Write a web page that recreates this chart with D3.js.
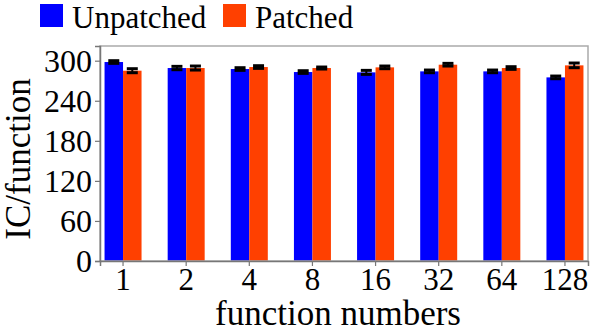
<!DOCTYPE html>
<html>
<head>
<meta charset="utf-8">
<script src="https://cdn.jsdelivr.net/npm/d3@7"></script>
<style>
  html, body { margin: 0; padding: 0; background: #fff; }
  svg { display: block; }
  svg text { font-family: 'Liberation Serif', 'Times New Roman', serif; }
</style>
</head>
<body>
<svg id="chart" width="590" height="332"></svg>
<script>
const categories = ['1', '2', '4', '8', '16', '32', '64', '128'];
const seriesNames = ['Unpatched', 'Patched'];
const unpatched = [298, 289, 287.5, 283, 282.5, 284, 284, 275];
const patched = [285, 289, 290.5, 289, 290, 294, 289, 293];
const unpatchedErr = [2, 2.5, 2, 2, 3, 2, 2, 2];
const patchedErr = [3, 3, 2, 1.5, 2, 2, 2, 3.5];
const yTicks = [0, 60, 120, 180, 240, 300];

const colors = { Unpatched: '#0000ff', Patched: '#ff4000' };
const serif = "'Liberation Serif', 'Times New Roman', serif";

const svg = d3.select('#chart');
const margin = { top: 46, right: 2, bottom: 71, left: 100 };
const width = 590 - margin.left - margin.right;
const height = 332 - margin.top - margin.bottom;

const x = d3.scaleBand().domain(categories).range([0, width]).paddingInner(0.414).paddingOuter(0.072);
const xs = d3.scaleBand().domain(seriesNames).range([0, x.bandwidth()]);
const y = d3.scaleLinear().domain([0, 322]).range([height, 0]);

const g = svg.append('g').attr('transform', `translate(${margin.left}, ${margin.top})`);

const rows = categories.map((c, i) => ({
  cat: c,
  values: [
    { name: 'Unpatched', value: unpatched[i], err: unpatchedErr[i] },
    { name: 'Patched', value: patched[i], err: patchedErr[i] },
  ],
}));

const group = g
  .selectAll('g.group')
  .data(rows)
  .join('g')
  .attr('class', 'group')
  .attr('transform', (d) => `translate(${x(d.cat)}, 0)`);

group
  .selectAll('rect')
  .data((d) => d.values)
  .join('rect')
  .attr('x', (d) => xs(d.name))
  .attr('width', xs.bandwidth())
  .attr('y', (d) => y(d.value))
  .attr('height', (d) => y(0) - y(d.value))
  .attr('fill', (d) => colors[d.name]);

// error bars
const capW = 11;
const err = group
  .selectAll('g.err')
  .data((d) => d.values)
  .join('g')
  .attr('class', 'err')
  .attr('transform', (d) => `translate(${xs(d.name) + xs.bandwidth() / 2}, 0)`)
  .attr('stroke', '#000')
  .attr('stroke-width', 3);

err
  .append('line')
  .attr('stroke-width', 2)
  .attr('y1', (d) => y(d.value - d.err))
  .attr('y2', (d) => y(d.value + d.err));
err
  .append('line')
  .attr('x1', -capW / 2)
  .attr('x2', capW / 2)
  .attr('y1', (d) => y(d.value + d.err))
  .attr('y2', (d) => y(d.value + d.err));
err
  .append('line')
  .attr('x1', -capW / 2)
  .attr('x2', capW / 2)
  .attr('y1', (d) => y(d.value - d.err))
  .attr('y2', (d) => y(d.value - d.err));

// frame
g.append('rect')
  .attr('width', width)
  .attr('height', height)
  .attr('fill', 'none')
  .attr('stroke', '#aaa')
  .attr('stroke-width', 1.5);

const yAxis = g.append('g').call(d3.axisLeft(y).tickValues(yTicks).tickSize(5).tickPadding(3));
yAxis.attr('font-family', serif);
yAxis.select('.domain').attr('stroke', '#777').attr('stroke-width', 1.5);
yAxis.selectAll('.tick line').attr('stroke', '#777').attr('stroke-width', 1.2);
yAxis
  .selectAll('.tick text')
  .style('font-family', serif)
  .attr('font-size', 32)
  .attr('fill', '#000')
  .attr('dy', '0.34em');

const xAxis = g
  .append('g')
  .attr('transform', `translate(0, ${height})`)
  .call(d3.axisBottom(x).tickSize(5).tickPadding(2));
xAxis.attr('font-family', serif);
xAxis.select('.domain').attr('stroke', '#777').attr('stroke-width', 1.5);
xAxis.selectAll('.tick line').attr('stroke', '#777').attr('stroke-width', 1.2);
xAxis
  .selectAll('.tick text')
  .style('font-family', serif)
  .attr('font-size', 31)
  .attr('fill', '#000')
  .attr('dy', '0.72em');

// axis titles
svg
  .append('text')
  .style('font-family', serif)
  .attr('text-anchor', 'middle')
  .attr('font-size', 35)
  .attr('transform', `translate(338, 325)`)
  .text('function numbers');

svg
  .append('text')
  .style('font-family', serif)
  .attr('text-anchor', 'middle')
  .attr('font-size', 35)
  .attr('transform', `translate(30, 159) rotate(-90)`)
  .text('IC/function');

// legend
const legendX = [40, 223];
const legend = svg
  .selectAll('g.legend')
  .data(seriesNames)
  .join('g')
  .attr('class', 'legend')
  .attr('transform', (d, i) => `translate(${legendX[i]}, 4)`);

legend
  .append('rect')
  .attr('width', 23)
  .attr('height', 23)
  .attr('fill', (d) => colors[d]);

legend
  .append('text')
  .style('font-family', serif)
  .attr('x', 32)
  .attr('y', 24)
  .attr('font-size', 31)
  .text((d) => d);
</script>
</body>
</html>
